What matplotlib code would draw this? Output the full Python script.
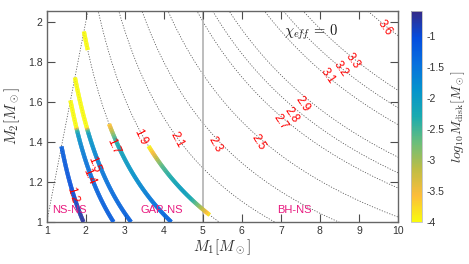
import numpy as np
import matplotlib.pyplot as plt
from matplotlib.collections import LineCollection
from matplotlib.colors import LinearSegmentedColormap, Normalize

plt.rcParams['font.family'] = ['Liberation Sans', 'DejaVu Sans']
plt.rcParams['mathtext.fontset'] = 'cm'

### chirp mass levels of the dashed contours
chirp_levels = [1.2, 1.4, 1.5, 1.7, 1.9, 2.1, 2.3, 2.5, 2.7, 2.8, 2.9, 3.1, 3.2, 3.3, 3.6]

### disk mass along some of the contours
disk_mc = [1.2, 1.4, 1.5, 1.7, 1.7, 1.9]
disk_m2 = [
    [1.378, 1.30, 1.20, 1.12, 1.05, 1.00],
    [1.608, 1.475, 1.46, 1.44, 1.38, 1.30, 1.15, 1.00],
    [1.723, 1.475, 1.46, 1.44, 1.35, 1.25, 1.10, 1.00],
    [1.953, 1.86],
    [1.49, 1.46, 1.42, 1.38, 1.30, 1.20, 1.10, 1.00],
    [1.38, 1.35, 1.31, 1.28, 1.21, 1.16, 1.12, 1.085, 1.06, 1.035],
]
disk_logm = [
    [-1.25, -1.2, -1.1, -0.95, -0.8, -0.72],
    [-4.0, -4.0, -2.5, -2.0, -1.7, -1.5, -1.3, -1.2],
    [-4.0, -4.0, -2.6, -2.0, -1.75, -1.55, -1.35, -1.25],
    [-4.0, -4.0],
    [-3.7, -3.2, -2.5, -2.2, -2.0, -1.8, -1.5, -1.3],
    [-4.0, -3.6, -3.0, -2.6, -2.25, -2.05, -2.25, -2.8, -3.3, -3.9],
]

label_text = ['1.2', '1.4', '1.5', '1.7', '1.9', '2.1', '2.3', '2.5',
              '2.7', '2.8', '2.9', '3.1', '3.2', '3.3', '3.6']

# parula-like map, reversed (yellow = low)
parula = LinearSegmentedColormap.from_list('parula', [
    (0.208, 0.166, 0.529), (0.020, 0.300, 0.870), (0.030, 0.440, 0.870),
    (0.020, 0.580, 0.800), (0.100, 0.670, 0.690), (0.420, 0.745, 0.480),
    (0.747, 0.741, 0.270), (0.990, 0.740, 0.230), (0.976, 0.983, 0.054)])
cmap = parula.reversed()
norm = Normalize(vmin=-4, vmax=-0.6)


def chirp_curve(mc, n=3000):
    q = np.linspace(0.08, 1.0, n)
    m1 = mc * (1 + q)**0.2 / q**0.6
    return m1, q * m1


fig = plt.figure(figsize=(4.69, 2.64), dpi=100)
ax = fig.add_axes([0.0996, 0.159, 0.749, 0.799])
cax = fig.add_axes([0.8757, 0.159, 0.0241, 0.799])

# dashed chirp mass contours
dash = dict(color='0.3', lw=0.55, ls=(0, (1.5, 2.0)), zorder=1)
for mc in chirp_levels:
    m1, m2 = chirp_curve(mc)
    ax.plot(m1, m2, **dash)
ax.plot([1, 2.1], [1, 2.1], **dash)
ax.axvline(5, color='0.72', lw=1.3, zorder=1)

# coloured disk mass tracks (segments overlap a little so no seams show)
for mc, yy, vv in zip(disk_mc, disk_m2, disk_logm):
    m1, m2 = chirp_curve(mc)
    keep = (m2 <= max(yy)) & (m2 >= min(yy))
    x, y = m1[keep], m2[keep]
    val = np.interp(y, yy[::-1], vv[::-1])
    pts = np.column_stack([x, y])
    k = 4
    segs = [pts[i:min(i + k + 1, len(pts))] for i in range(0, len(pts) - 1, 2)]
    cols = [val[i:min(i + k + 1, len(pts))].mean() for i in range(0, len(pts) - 1, 2)]
    lc = LineCollection(segs, cmap=cmap, norm=norm, lw=2.9, capstyle='butt',
                        joinstyle='round', zorder=3)
    lc.set_array(np.array(cols))
    ax.add_collection(lc)

# contour labels
label_pos = [(1.64, 1.135), (2.09, 1.23), (2.22, 1.29), (2.71, 1.38), (3.41, 1.425),
             (4.33, 1.41), (5.32, 1.39), (6.43, 1.40), (6.98, 1.50), (7.28, 1.535),
             (7.54, 1.59), (8.19, 1.73), (8.52, 1.765), (8.85, 1.805), (9.67, 1.97)]
label_rot = [-74, -68, -68, -66, -64, -62, -60, -58, -56, -56, -56, -55, -55, -55, -54]
for t, (px, py), r in zip(label_text, label_pos, label_rot):
    ax.text(px, py, t, color='red', fontsize=8.5, rotation=r, ha='center', va='center',
            rotation_mode='anchor', zorder=4)

for t, px in [('NS-NS', 1.57), ('GAP-NS', 3.95), ('BH-NS', 7.34)]:
    ax.text(px, 1.06, t, color='#e8197f', fontsize=8, ha='center', va='center', zorder=5)
ax.text(7.78, 1.95, r'$\chi_{eff}\, =\, 0$', fontsize=10.5, ha='center', va='center',
        color='0.1')

ax.set_xlim(1, 10)
ax.set_ylim(1, 2.055)
ax.set_xticks(range(1, 11))
ax.set_yticks([1, 1.2, 1.4, 1.6, 1.8, 2])
ax.set_yticklabels(['1', '1.2', '1.4', '1.6', '1.8', '2'])
ax.tick_params(direction='in', top=True, right=True, length=5.5, width=0.8,
               color='0.3', labelcolor='0.2', labelsize=7.5, pad=3)
for s in ax.spines.values():
    s.set_color('0.4')
    s.set_linewidth(1.0)
ax.set_xlabel(r'$M_1[M_\odot]$', fontsize=11, labelpad=1, color='0.2')
ax.set_ylabel(r'$M_2[M_\odot]$', fontsize=11, labelpad=4, color='0.2')

cb = fig.colorbar(plt.cm.ScalarMappable(norm=norm, cmap=cmap), cax=cax)
cb.set_ticks([-4, -3.5, -3, -2.5, -2, -1.5, -1])
cb.set_ticklabels(['-4', '-3.5', '-3', '-2.5', '-2', '-1.5', '-1'])
cb.ax.tick_params(length=0, labelsize=7.5, labelcolor='0.2', pad=3)
cb.outline.set_edgecolor('0.75')
cb.outline.set_linewidth(0.6)
cb.set_label(r'$log_{10}M_{\rm disk}[M_\odot]$', fontsize=10, color='0.2', labelpad=4)

plt.savefig('out.png', dpi=100)
